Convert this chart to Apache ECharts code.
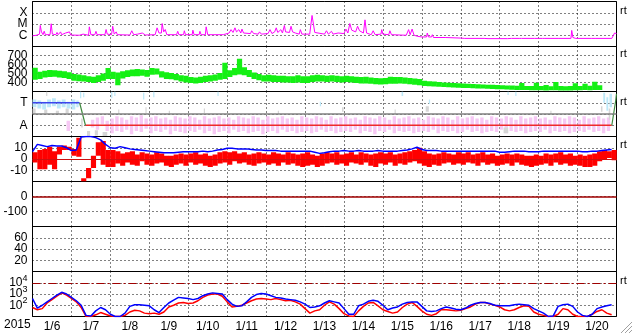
<!DOCTYPE html>
<html><head><meta charset="utf-8">
<script src="https://cdn.jsdelivr.net/npm/echarts@6/dist/echarts.min.js"></script>
<style>html,body{margin:0;padding:0;background:#fff}#c{width:633px;height:334px}</style>
</head><body><div id="c"></div>
<script>
// ---------- data (time in days since 2015-01-06 00:00 UT) ----------
const dayLabels = ['1/6','1/7','1/8','1/9','1/10','1/11','1/12','1/13','1/14','1/15','1/16','1/17','1/18','1/19','1/20'];
const yearLabel = '2015';
const DT = 0.125; // 3-hour bins

// X-ray flux, log10(W/m2)  [day, log10 flux]
const xray = [
[0,-6.05],[0.1,-6.0],[0.18,-5.9],[0.2,-5.13],[0.23,-5.7],[0.27,-5.95],[0.3,-5.64],[0.33,-5.95],[0.45,-5.95],[0.48,-4.98],[0.51,-5.9],[0.6,-5.95],[0.63,-5.75],[0.66,-5.95],[0.72,-5.7],[0.75,-5.95],[0.85,-5.8],[0.88,-5.95],[0.95,-5.7],[0.98,-5.98],
[1.2,-6.0],[1.3,-5.9],[1.33,-6.0],[1.44,-6.0],[1.46,-5.25],[1.5,-5.95],[1.6,-5.95],[1.63,-5.65],[1.66,-5.95],[1.86,-5.95],[1.89,-5.49],[1.92,-5.9],
[2.03,-5.95],[2.06,-5.2],[2.1,-5.9],[2.15,-5.7],[2.18,-5.95],[2.5,-5.98],[2.55,-5.6],[2.6,-5.95],[2.7,-5.9],[2.75,-5.75],[2.82,-5.8],[2.9,-5.98],
[3.15,-5.95],[3.2,-5.34],[3.25,-5.8],[3.31,-5.8],[3.33,-4.96],[3.37,-5.7],[3.41,-5.49],[3.45,-5.95],[3.7,-5.95],[3.73,-5.65],[3.76,-5.95],[3.88,-5.95],[3.9,-5.6],[3.93,-5.95],
[4.1,-5.95],[4.12,-5.55],[4.15,-5.95],[4.28,-5.95],[4.3,-5.65],[4.33,-5.95],[4.44,-5.95],[4.46,-5.25],[4.5,-5.95],[4.9,-5.95],[4.95,-5.85],
[5.05,-5.8],[5.1,-5.5],[5.15,-5.75],[5.2,-5.34],[5.24,-5.7],[5.3,-5.5],[5.35,-5.8],[5.38,-5.45],[5.42,-5.8],[5.6,-5.85],[5.63,-5.6],[5.68,-5.85],[5.8,-5.9],[5.83,-5.7],[5.88,-5.9],
[6.05,-5.85],[6.1,-5.5],[6.15,-5.85],[6.22,-5.7],[6.26,-5.34],[6.3,-5.75],[6.38,-5.5],[6.42,-5.8],[6.47,-5.13],[6.5,-5.7],[6.6,-5.75],[6.64,-5.2],[6.68,-5.7],[6.75,-5.8],[6.85,-5.9],[6.88,-5.5],[6.92,-5.9],
[7.12,-5.9],[7.18,-4.24],[7.25,-5.75],[7.3,-5.85],[7.5,-5.9],[7.55,-5.6],[7.6,-5.9],[7.68,-5.65],[7.72,-5.9],[7.85,-5.8],[7.9,-5.9],
[8.0,-5.85],[8.05,-5.45],[8.1,-5.8],[8.15,-4.96],[8.2,-5.55],[8.25,-5.4],[8.3,-5.7],[8.35,-5.2],[8.4,-5.6],[8.45,-5.65],[8.5,-5.8],[8.54,-4.63],[8.58,-5.8],[8.62,-5.95],[8.7,-5.95],[8.75,-5.6],[8.8,-5.95],[8.95,-5.9],[8.97,-5.5],[9.0,-5.9],
[9.15,-5.95],[9.18,-5.6],[9.22,-5.95],[9.6,-6.0],[9.66,-5.5],[9.7,-5.95],[9.75,-5.45],[9.8,-6.0],[9.9,-6.1],
[10.0,-6.15],[10.12,-6.15],[10.14,-5.8],[10.17,-6.15],[10.25,-6.15],[10.27,-5.95],[10.3,-6.2],[10.6,-6.2],
[11.0,-6.25],[11.05,-6.15],[11.1,-6.28],[11.6,-6.28],[11.65,-6.2],[11.7,-6.3],
[12.2,-6.3],[12.25,-6.2],[12.3,-6.28],[12.5,-6.28],[12.53,-6.15],[12.56,-6.28],[12.9,-6.28],[12.95,-6.15],[13.0,-6.28],
[13.1,-6.28],[13.13,-6.18],[13.16,-6.28],[13.5,-6.28],[13.55,-6.2],[13.6,-6.28],[13.83,-6.28],[13.85,-5.57],[13.88,-6.2],[13.95,-6.28],
[14.35,-6.28],[14.4,-6.15],[14.45,-6.28],[14.88,-6.28],[14.95,-5.8],[15,-5.85]
];
const flareMarks = [[7.18,-4.24],[8.54,-4.63]];

// Solar wind speed (km/s), 3-hour min / max
const windLo = [430,440,455,460,465,455,450,440, 420,415,410,405,395,405,420,440, 440,370,445,460,470,470,475,465, 485,490,455,440,435,425,410,400,
 395,390,395,405,410,420,430,440, 460,480,490,480,460,440,425,410, 410,405,405,400,400,395,400,395, 395,405,410,410,405,410,405,400,
 405,400,395,390,390,385,380,378, 380,385,385,390,385,380,375,370, 360,358,355,352,350,348,345,343, 340,338,336,334,332,330,328,326,
 324,322,320,318,317,316,315,314, 313,312,313,314,312,311,312,314, 314,316,315,318,317];
const windHi = [565,520,530,540,535,530,525,515, 495,490,480,470,465,480,500,560, 520,510,525,535,545,550,545,540, 560,555,525,515,505,495,480,475,
 460,455,465,475,480,490,505,620, 535,560,663,570,540,510,495,480, 485,480,475,475,470,470,480,470, 470,480,485,480,475,480,475,470,
 475,470,465,460,465,455,450,448, 450,465,460,460,455,450,445,440, 420,415,410,405,400,398,395,392, 388,385,382,380,378,376,374,372,
 370,368,366,364,395,362,360,398, 360,372,358,405,362,358,360,392, 362,385,365,408,370];

// IMF sector: polarity line (1 = Toward, -1 = Away)
const sectorTimes = [0, 1.21, 1.36, 14.88, 14.98, 15];
const sectorVals  = [1, 1, -1, -1, 1.2, 1.8];
// sector scatter, 3-hour min / max (pink, away-like)
const pinkLo = [null,null,null,null,null,null,null,-1.5, null,null,null,null,-1.2,-1.4,-0.9,-1.5,
 -1.7,-1.5,-1.6,-1.4,-1.8,-1.5,-1.6,-1.3, -1.7,-1.5,-1.6,-1.4,-1.8,-1.5,-1.6,-1.7, -1.5,-1.6,-1.4,-1.7,-1.5,-1.8,-1.6,-1.5,
 -1.7,-1.4,-1.6,-1.5,-1.7,-1.6,-1.5,-1.8, -1.6,-1.5,-1.7,-1.4,-1.6,-1.5,-1.7,-1.6, -1.5,-1.7,-1.6,-1.4,-1.6,-1.5,-1.7,-1.6,
 -1.5,-1.6,-1.4,-1.7,-1.5,-1.6,-1.8,-1.5, -1.6,-1.4,-1.7,-1.5,-1.6,-1.5,-1.7,-1.6, -1.5,-1.6,-1.4,-1.7,-1.5,-1.6,-1.5,-1.7,
 -1.6,-1.4,-1.6,-1.5,-1.7,-1.6,-1.5,-1.6, -1.4,-1.7,-1.5,-1.6,-1.5,-1.7,-1.6,-1.5, -1.6,-1.4,-1.7,-1.5,-1.6,-1.5,-1.7,-1.6,
 -1.5,-1.6,-1.4,-1.6,-1.5,-1.7,-1.5,null];
const pinkHi = [null,null,null,null,null,null,null,-0.6, null,null,null,null,-0.5,-0.3,-0.2,-0.6,
 -0.4,-0.2,-0.3,-0.5,-0.2,-0.3,-0.1,-0.4, -0.3,-0.2,-0.4,-0.3,-0.5,-0.2,-0.3,-0.4, -0.2,-0.3,-0.5,-0.2,-0.4,-0.3,-0.2,-0.4,
 -0.3,-0.5,-0.2,-0.3,-0.4,-0.2,-0.3,-0.5, -0.2,-0.4,-0.3,-0.2,-0.4,-0.3,-0.5,-0.2, -0.3,-0.4,-0.2,-0.3,-0.5,-0.2,-0.4,-0.3,
 -0.2,-0.4,-0.3,-0.5,-0.2,-0.3,-0.4,-0.2, -0.3,-0.5,-0.2,-0.4,-0.3,-0.2,-0.4,-0.3, -0.5,-0.2,-0.3,-0.4,-0.2,-0.3,-0.5,-0.2,
 -0.4,-0.3,-0.2,-0.4,-0.3,-0.5,-0.2,-0.3, -0.4,-0.2,-0.3,-0.5,-0.2,-0.4,-0.3,-0.2, -0.4,-0.3,-0.5,-0.2,-0.3,-0.4,-0.2,-0.3,
 -0.5,-0.2,-0.4,-0.3,-0.2,-0.4,-0.3,null];
// sector scatter spans [t0, t1, lo, hi]
const cyanSpans = [[0,0.125,0.6,1.3],[0.125,0.25,0.5,1.2],[0.25,0.375,0.4,1.1],[0.375,0.5,0.6,1.3],[0.5,0.625,0.7,1.4],[0.625,0.75,0.5,1.2],[0.75,0.875,0.6,1.3],[0.875,1.0,0.5,1.1],[1.0,1.125,0.4,1.3],[1.125,1.2,0.6,1.2],
 [1.22,1.26,1.4,2.0],[1.3,1.33,1.5,1.9],
 [2.02,2.06,1.4,2.0],[2.1,2.12,1.6,2.0],[2.84,2.88,1.3,1.9],[3.1,3.14,1.5,2.0],[4.75,4.78,1.6,2.0],[7.38,7.42,0.7,1.1],[9.48,9.53,1.6,2.0],
 [10.18,10.22,0.9,1.3],[12.2,12.24,1.7,2.0],[12.4,12.43,1.6,2.0],[14.66,14.72,1.0,1.9],[14.74,14.8,0.3,1.5],[14.82,14.9,0.6,1.8]];
const graySpans = [[0,0.1,0.0,0.5],[0.3,0.4,0.1,0.4],[0.6,0.7,0.0,0.3],[0.85,0.95,0.1,0.5],[0.35,0.38,1.6,2.0],[1.25,1.3,-1.2,-0.4],[1.4,1.5,-1.95,-1.5],[1.6,1.7,-1.9,-1.45],[1.8,1.95,-1.95,-1.6],
 [2.2,2.23,0.0,0.4],[2.9,2.93,0.1,0.6],[3.5,3.52,0.0,0.3],[4.4,4.43,0.1,0.5],[6.3,6.33,0.0,0.3],[7.95,8.0,0.2,0.6],[9.3,9.33,0.0,0.4],
 [10.1,10.2,0.2,0.7],[12.1,12.25,-1.7,-1.2],[13.3,13.33,0.0,0.3],[14.6,14.65,0.2,0.7],[14.8,14.85,-0.5,0.5]];

// IMF Bt (nT), 3-hourly
const bt = [6.5,13,12,11,12,11.5,11.5,10, 7.5,8,19.5,20,20,19,17,13, 10,9.5,11,10,9,8.5,8,7.5, 7,6.5,6,5.5,5.5,5.5,6,6.5,
 6.5,6.5,6.5,7,6.5,7,8,8.5, 9.5,9.5,9,9,9,8.5,8,8, 7.5,7.5,7.5,7,7,7,7,7, 7,7,6,5,5.5,6.5,7,7,
 7.5,7,7,7.5,7,7,7,7.5, 7,7,7,7,7.5,8,9,10.5, 8.5,7.5,7.5,7.5,7,7,7,7, 7,7,7,7,7,7,7,7,
 6,6,6.5,7,7,7,6.5,6.5, 6.5,7,7,7,7,7,7,7, 7,6.5,6.5,7,7,7.5,8,8.5];
// IMF Bz (nT), 3-hour min / max
const bzLo = [-3,-9,-9,-5,-9,4,8,8, 3,2,-20,-17,-8,3,-5,-7,
 -7,-4,-6,-3,-5,-6,-2,-5, -6,-4,-3,-6,-7,-5,-4,-6, -3,-5,-4,-6,-7,-6,-4,-3, -5,-2,-4,-3,-5,-6,-4,-3,
 -5,-4,-6,-3,-5,-4,-6,-7, -6,-5,-7,-6,-4,-3,-5,-4, -6,-3,-4,-5,-3,-6,-7,-4, -5,-3,-6,-4,-5,-3,-2,-4,
 -6,-7,-5,-6,-4,-3,-5,-4, -5,-3,-4,-6,-3,-5,-4,-6, -5,-4,-6,-3,-5,-6,-7,-6, -5,-4,-6,-3,-5,-4,-6,-5,
 -6,-7,-7,-6,-2,0,1,-1];
const bzHi = [6,8,9,11,7,11,12,11, 9,19,-17,-8,3,15,16,8,
 8,7,5,6,7,4,6,5, 4,6,5,3,3,4,5,4, 5,6,4,5,3,4,6,7, 6,7,5,6,4,5,6,5,
 4,6,5,4,6,5,4,5, 6,4,3,5,6,5,6,4, 5,6,4,6,5,4,5,6, 5,6,4,5,6,7,8,10,
 7,5,4,5,6,5,4,6, 5,6,4,5,6,4,5,3, 4,5,4,5,4,3,3,4, 3,5,4,5,6,4,5,3,
 4,3,4,5,7,8,7,8];

// Electron flux, log10, 3-hourly (red, blue)
const eRed = [1.8,1.6,1.7,2.2,2.5,2.8,3.1,2.9, 2.6,2.3,1.8,1.0,1.0,1.15,1.35,1.2, 1.05,1.0,1.0,1.1,1.4,1.55,1.5,1.3,
 1.25,1.3,1.2,1.4,1.85,2.0,2.2,2.25, 2.15,2.2,2.4,2.7,2.9,3.0,3.0,2.8, 2.3,1.85,1.9,2.0,2.2,2.4,2.55,2.6,
 2.55,2.5,2.6,2.5,2.4,2.45,2.3,2.1, 1.7,1.3,1.5,1.6,2.0,2.3,2.1,1.7, 1.25,1.05,1.0,1.5,1.9,2.2,2.25,1.95,
 1.6,1.45,1.3,1.4,1.8,2.1,2.25,1.9, 1.5,1.2,1.1,1.25,1.6,1.6,1.55,1.5, 1.55,1.7,1.85,2.1,2.25,2.25,2.1,2.0,
 1.85,1.6,1.5,1.6,1.8,1.95,1.9,1.4, 1.2,1.1,1.0,1.0,1.2,1.7,1.6,1.2, 1.0,1.0,1.0,1.2,1.45,1.6,1.3,1.15];
const eBlue = [2.6,1.75,2.0,2.3,2.6,2.9,3.15,3.0, 2.7,2.4,2.0,1.1,1.05,1.5,1.8,1.6, 1.2,1.0,1.0,1.3,1.9,2.05,2.05,2.0,
 1.95,1.6,1.35,1.8,2.2,2.45,2.7,2.65, 2.6,2.5,2.6,2.85,3.0,3.1,3.05,3.0, 2.5,2.1,1.9,1.95,2.3,2.7,2.95,3.05,
 3.0,2.85,2.7,2.65,2.55,2.5,2.45,2.3, 2.1,1.8,1.85,1.95,2.2,2.4,2.3,2.2, 1.7,1.2,1.2,1.95,2.1,2.35,2.45,2.35,
 2.0,1.6,1.75,1.85,2.1,2.25,2.3,2.3, 1.9,1.5,1.45,1.5,1.7,1.85,1.75,1.65, 1.6,1.75,2.0,2.15,2.25,2.25,2.15,2.0,
 1.95,1.95,1.95,2.05,2.1,2.05,2.0,1.7, 1.5,1.3,1.0,1.05,1.9,2.05,2.1,1.9, 1.4,1.1,1.0,1.2,1.7,1.85,1.95,2.05];

// ---------- build ----------
const FONT = 'Liberation Sans, Arial, sans-serif';
const tops = [1.5, 46.5, 91.5, 136.5, 181.5, 226.5, 271.5];
const chart = echarts.init(document.getElementById('c'), null, {renderer:'canvas'});

const grids = tops.map(t => ({left:32.5, top:t, width:584, height:45, show:true, borderColor:'#000', borderWidth:1, backgroundColor:'#fff'}));
const dotted = {show:true, lineStyle:{color:'#000', type:[1,3], width:1}};
const xAxes = tops.map((t,i) => ({gridIndex:i, type:'value', min:0, max:15, interval:1,
  axisLabel:{show:false}, axisTick:{show:false}, axisLine:{show:false}, splitLine:dotted}));
xAxes.push({gridIndex:6, type:'category', data:dayLabels, boundaryGap:true, position:'bottom',
  axisLine:{show:false}, axisTick:{show:false}, splitLine:{show:false},
  axisLabel:{color:'#000', fontSize:12, fontFamily:FONT, margin:4, interval:0}});

function yAx(i, min, max, interval, fmt, extra){
  return Object.assign({gridIndex:i, type:'value', min, max, interval,
    axisLine:{show:false}, axisTick:{show:false}, splitLine:dotted,
    axisLabel:{color:'#000', fontSize:12, fontFamily:FONT, margin:5, formatter:fmt, showMinLabel:true, showMaxLabel:true}}, extra||{});
}
const yAxes = [
  yAx(0,-7,-3,1, v => ({'-6':'C','-5':'M','-4':'X'})[String(v)] || ''),
  yAx(1,300,800,100, v => (v>=400 && v<=700) ? String(v) : ''),
  yAx(2,-2,2,1, v => v===1 ? 'T' : (v===-1 ? 'A' : '')),
  yAx(3,-20,20,10, v => Math.abs(v)<=10 ? String(v) : ''),
  yAx(4,-200,100,100, v => (v===0 || v===-100) ? String(v) : ''),
  yAx(5,0,80,20, v => (v>=20 && v<=60) ? String(v) : ''),
  yAx(6,1,5,1, v => (v>=2 && v<=4) ? '{b|10}{s|' + v + '}' : '')
];
yAxes[6].axisLabel.rich = {b:{fontSize:12, fontFamily:FONT, color:'#000'}, s:{fontSize:9, fontFamily:FONT, color:'#000', padding:[0,0,9,0]}};

function spans(xi, items, color, frac){
  return {type:'custom', xAxisIndex:xi, yAxisIndex:xi, data:items, silent:true, clip:true,
    encode:{x:[0,1], y:[2,3]},
    renderItem:(params, api) => {
      const a = api.coord([api.value(0), api.value(3)]);
      const b = api.coord([api.value(1), api.value(2)]);
      const cs = params.coordSys;
      const y1 = Math.max(a[1], cs.y), y2 = Math.min(b[1], cs.y + cs.height);
      const w = Math.max(1.2, (b[0]-a[0])*frac);
      return {type:'rect', shape:{x:a[0], y:y1, width:w, height:Math.max(1, y2-y1)}, style:{fill:color}};
    }};
}
function bins(lo, hi){ return lo.map((l,i) => l==null ? null : [i*DT, (i+1)*DT, l, hi[i]]).filter(Boolean); }
function series3h(arr){ return arr.map((v,i) => [i*DT, v]); }
function line(xi, data, color, width, extra){
  return Object.assign({type:'line', xAxisIndex:xi, yAxisIndex:xi, data, showSymbol:false, symbol:'none', silent:true,
    lineStyle:{color, width}, itemStyle:{color}}, extra||{});
}
function hline(val, color, type, width){
  return {silent:true, symbol:['none','none'], label:{show:false}, emphasis:{disabled:true}, animation:false,
    lineStyle:{color, type, width}, data:[{yAxis:val}]};
}

// sector line segments
const towardSeg = [], awaySeg = [], transSeg = [];
for (let i=0;i<sectorTimes.length-1;i++){
  const a=[sectorTimes[i],sectorVals[i]], b=[sectorTimes[i+1],sectorVals[i+1]];
  if (a[1]===1 && b[1]===1) towardSeg.push(a,b,[null,null]);
  else if (a[1]===-1 && b[1]===-1) awaySeg.push(a,b,[null,null]);
  else transSeg.push(a,b,[null,null]);
}

const series = [
  // panel 1 X-ray
  line(0, xray, '#ff00ff', 1),
  {type:'scatter', xAxisIndex:0, yAxisIndex:0, data:flareMarks, symbol:'emptyCircle', symbolSize:6, silent:true,
   itemStyle:{color:'#fff', borderColor:'#0000ff', borderWidth:1.5}},
  // panel 2 solar wind
  spans(1, bins(windLo, windHi), '#14f014', 1.08),
  // panel 3 sector
  spans(2, bins(pinkLo, pinkHi), '#f6c8f4', 0.7),
  spans(2, graySpans, '#d6d6d6', 0.8),
  spans(2, cyanSpans, '#bde8f8', 0.8),
  line(2, [], '#808080', 1, {markLine: hline(0, '#808080', 'solid', 1.5)}),
  line(2, towardSeg, '#3c46ee', 1.5, {connectNulls:false}),
  line(2, awaySeg, '#ee2a2a', 1.5, {connectNulls:false}),
  line(2, transSeg, '#3f8a3f', 1.2, {connectNulls:false}),
  // panel 4 IMF
  spans(3, bins(bzLo, bzHi), '#ff0000', 1.06),
  line(3, [], '#cc1010', 1, {markLine: hline(0, '#cc1010', 'solid', 1.2)}),
  line(3, series3h(bt), '#0000ff', 1.5),
  // panel 5 Dst reference
  line(4, [], '#a00000', 1, {markLine: hline(0, '#a00000', 'solid', 1.5)}),
  // panel 7 electrons
  line(6, series3h(eRed), '#ff0000', 1.5, {markLine: hline(4, '#a00000', [8,3,2,3], 1.2)}),
  line(6, series3h(eBlue), '#0000ff', 1.5)
];

const rtY = [12, 55, 103, 146, 282];
const graphic = [
  {type:'text', left:4, top:319, style:{text:yearLabel, font:'12px ' + FONT, fill:'#000'}},
  ...rtY.map(y => ({type:'text', left:620, top:y-7, style:{text:'rt', font:'11px ' + FONT, fill:'#000'}})),
  {type:'line', shape:{x1:621, y1:333, x2:632, y2:322}, style:{stroke:'#a0a0a0', lineWidth:1}},
  {type:'line', shape:{x1:625, y1:333, x2:632, y2:326}, style:{stroke:'#a0a0a0', lineWidth:1}},
  {type:'line', shape:{x1:629, y1:333, x2:632, y2:330}, style:{stroke:'#a0a0a0', lineWidth:1}}
];

chart.setOption({animation:false, backgroundColor:'#fff', grid:grids, xAxis:xAxes, yAxis:yAxes, series, graphic});
</script></body></html>
